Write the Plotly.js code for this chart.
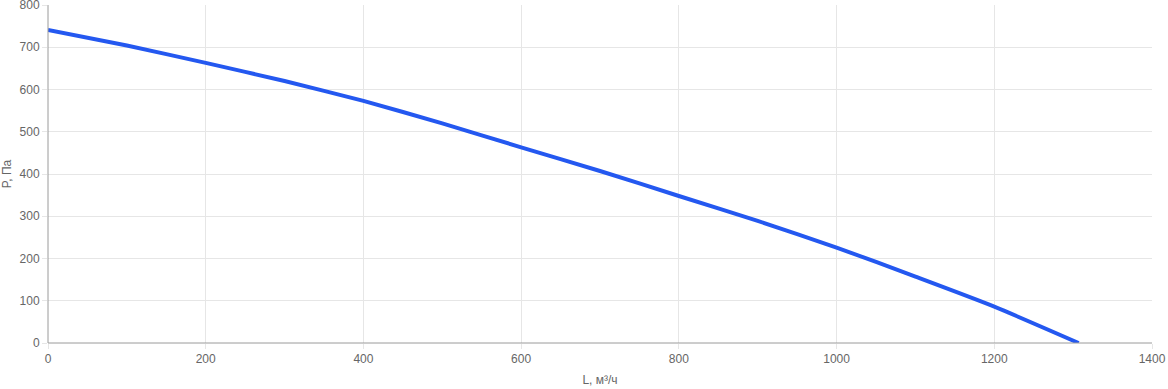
<!DOCTYPE html>
<html>
<head>
<meta charset="utf-8">
<script src="https://cdn.plot.ly/plotly-3.0.1.min.js"></script>
<style>html,body{margin:0;padding:0;background:#fff;}#chart{width:1168px;height:389px;}</style>
</head>
<body>
<div id="chart"></div>
<script>
const airflow = [0, 100, 200, 300, 400, 500, 600, 700, 800, 900, 1000, 1100, 1200, 1307];
const pressure = [741, 704, 663, 620, 573, 520, 463, 407, 348, 289, 226, 157, 86, 0];
const xTitle = 'L, м³/ч';
const yTitle = 'P, Па';

const trace = {
  x: airflow, y: pressure, type: 'scatter', mode: 'lines',
  line: {color: 'rgb(36,88,240)', width: 4, shape: 'spline', smoothing: 0.6},
  hoverinfo: 'skip'
};
const axisCommon = {
  showgrid: true, gridcolor: '#e6e6e6', gridwidth: 1,
  zeroline: false, showline: false,
  ticks: 'outside', ticklen: 5, tickcolor: '#e6e6e6', tickwidth: 1,
  ticklabeloverflow: 'allow',
  tickfont: {family: 'Liberation Sans, Arial, sans-serif', size: 12, color: '#666'},
  fixedrange: true
};
const layout = {
  width: 1168, height: 389,
  margin: {l: 48, r: 16, t: 5, b: 46},
  paper_bgcolor: '#fff', plot_bgcolor: '#fff',
  showlegend: false,
  font: {family: 'Liberation Sans, Arial, sans-serif', color: '#666', size: 12},
  xaxis: Object.assign({}, axisCommon, {
    range: [0, 1400], dtick: 200, tick0: 0,
    title: {text: xTitle, font: {size: 12, color: '#666'}, standoff: 10}
  }),
  yaxis: Object.assign({}, axisCommon, {
    range: [0, 800], dtick: 100, tick0: 0,
    title: {text: yTitle, font: {size: 12, color: '#666'}, standoff: 6}
  }),
  shapes: [
    {type: 'line', xref: 'paper', yref: 'paper', x0: 0, x1: 0, y0: 0, y1: 1, line: {color: '#9a9a9a', width: 1}},
    {type: 'line', xref: 'paper', yref: 'paper', x0: 0, x1: 1, y0: 0, y1: 0, line: {color: '#9a9a9a', width: 1}}
  ]
};
Plotly.newPlot('chart', [trace], layout, {displayModeBar: false, staticPlot: true});
</script>
</body>
</html>
